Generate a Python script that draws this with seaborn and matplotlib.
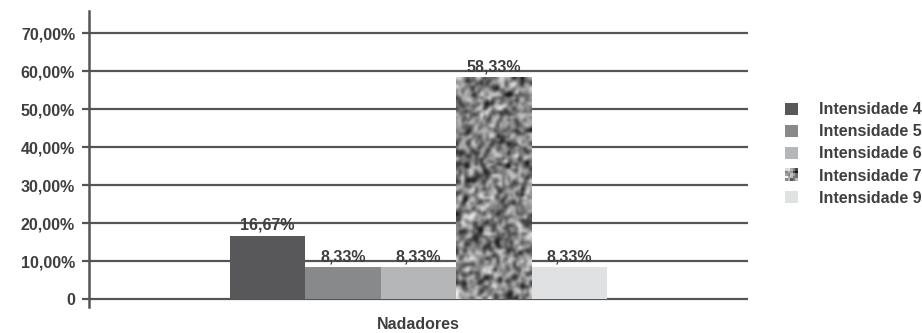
import numpy as np
import pandas as pd
import matplotlib
matplotlib.use("Agg")
import matplotlib.pyplot as plt
import seaborn as sns
from matplotlib.patches import Patch
from matplotlib.legend_handler import HandlerBase
from matplotlib.image import BboxImage
from matplotlib.transforms import Bbox, TransformedBbox

# Data
grupo = ["Nadadores"]
series = ["Intensidade 4", "Intensidade 5", "Intensidade 6", "Intensidade 7", "Intensidade 9"]
valores = [16.67, 8.33, 8.33, 58.33, 8.33]
yticks = [0, 10, 20, 30, 40, 50, 60, 70]
ytick_labels = ["0", "10,00%", "20,00%", "30,00%", "40,00%", "50,00%", "60,00%", "70,00%"]

cores = ["#58585a", "#88898b", "#b5b6b8", "#8c8c8c", "#e0e1e3"]
texto = "#3f3f3f"
linha = "#555555"
fs = 11.5

df = pd.DataFrame({"grupo": grupo * len(series), "serie": series, "valor": valores})

sns.set_theme(style="white")
plt.rcParams["font.family"] = ["Liberation Sans", "DejaVu Sans"]
plt.rcParams["font.weight"] = "bold"

fig = plt.figure(figsize=(9.22, 3.33), dpi=100)
ax = fig.add_axes([89 / 922, 26 / 333, (748 - 89) / 922, 296 / 333])

sns.barplot(data=df, x="grupo", y="valor", hue="serie", hue_order=series,
            palette=cores, width=0.572, saturation=1, linewidth=0,
            legend=False, ax=ax)

ax.set_yticks(yticks)
ax.set_yticklabels(ytick_labels, fontsize=fs, fontweight="bold", color=texto)
ax.tick_params(axis="y", length=5, width=1.6, color=linha, pad=5, direction="out", left=True)
ax.tick_params(axis="x", length=0, pad=7)
ax.set_xticks([0])
ax.set_xticklabels(grupo, fontsize=fs, fontweight="bold", color=texto)
ax.set_xlabel("")
ax.set_ylabel("")

for lado in ["top", "right", "bottom"]:
    ax.spines[lado].set_visible(False)
ax.spines["left"].set_color(linha)
ax.spines["left"].set_linewidth(1.8)

for y in yticks:
    ax.axhline(y, color=linha, linewidth=1.6, zorder=0.5)

# Speckled texture for the "Intensidade 7" bar
rng = np.random.default_rng(7)
ruido = rng.random((80, 28))
suave = (2 * ruido + np.roll(ruido, 1, 0) + np.roll(ruido, 1, 1)) / 4
suave = (suave - suave.min()) / (suave.max() - suave.min())
barra7 = ax.containers[3][0]
barra7.set_facecolor("none")
x0, larg = barra7.get_x(), barra7.get_width()
alt = barra7.get_height()
img = ax.imshow(suave, cmap="gray", vmin=0.05, vmax=0.95, extent=(x0, x0 + larg, 0, alt),
                aspect="auto", interpolation="bicubic", zorder=2)
img.set_clip_path(barra7)
ax.set_xlim(-0.5, 0.5)
ax.set_ylim(-2.1, 75.8)

for cont in ax.containers:
    rotulos = ax.bar_label(cont, labels=[f"{v:.2f}".replace(".", ",") + "%" for v in cont.datavalues],
                           padding=2, color=texto)
    for r in rotulos:
        r.set_fontsize(fs)
        r.set_fontweight("bold")


class HandlerTextura(HandlerBase):
    def create_artists(self, legend, orig_handle, xdescent, ydescent, width, height, fontsize, trans):
        caixa = TransformedBbox(Bbox.from_bounds(-xdescent, -ydescent, width, height), trans)
        im = BboxImage(caixa, cmap="gray", interpolation="nearest", norm=plt.Normalize(0.05, 0.95))
        im.set_data(suave[:5, :5])
        return [im]


alcas = [Patch(facecolor=c, edgecolor="none") for c in cores]
leg = fig.legend(alcas, series, loc="center left", bbox_to_anchor=(785 / 922, (333 - 154) / 333),
                 frameon=False, fontsize=fs, handlelength=0.8, handleheight=0.8,
                 handletextpad=1.3, labelspacing=0.44, borderpad=0, borderaxespad=0,
                 handler_map={alcas[3]: HandlerTextura()})
for t in leg.get_texts():
    t.set_color(texto)
    t.set_fontweight("bold")

fig.savefig("out.png", dpi=100)
